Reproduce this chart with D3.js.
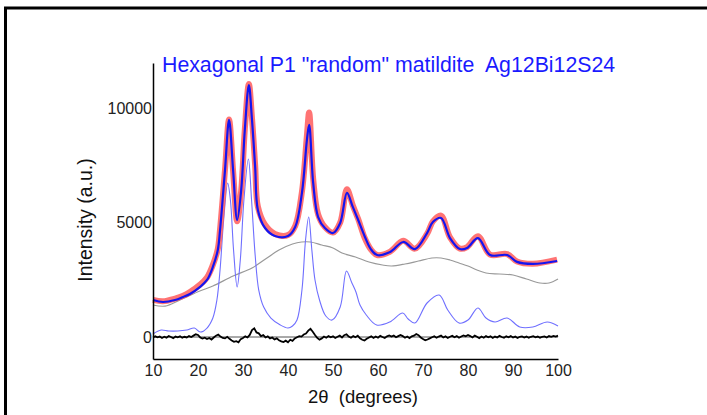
<!DOCTYPE html>
<html>
<head>
<meta charset="utf-8">
<script src="https://cdn.jsdelivr.net/npm/d3@7"></script>
<style>
  body { margin: 0; background: #fff; }
  svg { display: block; font-family: "Liberation Sans", Arial, sans-serif; }
</style>
</head>
<body>
<svg id="chart" width="707" height="415"></svg>
<script>
// 2theta positions of the read key points (calc / obs)
const keyTheta = [10.0, 12.2, 14.9, 16.7, 18.2, 20.4, 22.0, 23.3, 24.4, 24.9, 26.0, 26.9, 27.8, 28.7, 29.6, 30.4, 31.3, 32.0, 32.7, 33.3,
  34.9, 37.1, 40.0, 41.6, 43.1, 44.2, 44.7, 45.6, 46.7, 48.2, 50.0, 51.6, 53.1, 54.4, 55.6, 57.1, 58.4, 59.8, 62.7, 65.6,
  68.2, 70.9, 72.2, 74.0, 76.0, 78.2, 79.8, 82.2, 84.9, 88.7, 90.9, 94.4, 99.8]
const calcValues = [1616, 1530, 1615, 1750, 1880, 2180, 2490, 3060, 3800, 4670, 7290, 9480, 7290, 5110, 6420, 9040, 11000, 9480, 7420, 5550,
  4760, 4410, 4410, 4800, 6290, 8600, 9260, 6720, 5240, 4760, 4540, 4980, 6290, 5680, 5110, 4370, 3840, 3580, 3710, 4150,
  3840, 4540, 5020, 5200, 4320, 3840, 3890, 4320, 3580, 3580, 3280, 3190, 3320]
const obsValues = [1620, 1560, 1680, 1800, 1960, 2280, 2600, 3150, 3850, 4700, 7300, 9500, 7250, 5050, 6400, 9050, 11050, 9550, 7500, 5700,
  4900, 4500, 4450, 4850, 6350, 8800, 9800, 6900, 5350, 4800, 4560, 5000, 6450, 5750, 5150, 4300, 3830, 3580, 3730, 4200,
  3860, 4500, 5050, 5300, 4350, 3860, 3930, 4400, 3600, 3620, 3300, 3200, 3380]

// background
const bkgTheta = [10, 12.7, 16, 20.4, 23.3, 27.8, 32, 35, 38, 41, 43, 45, 47.5, 50, 52, 55, 58, 61, 63, 66,
  69, 72, 74, 76, 78, 80, 82, 84, 87, 90, 93, 96, 98, 100]
const bkgValues = [1397, 1350, 1616, 2009, 2227, 2664, 3013, 3406, 3799, 4061, 4149, 4149, 4018, 3887, 3668, 3494, 3275, 3144, 3101, 3188,
  3319, 3450, 3450, 3363, 3232, 3101, 2926, 2795, 2751, 2708, 2533, 2358, 2358, 2533]

// sum of Bragg peaks (thin blue)
const peakTheta = [10, 11.8, 13.5, 15.5, 17.5, 19.2, 20.5, 22, 23.3, 24.2, 24.9, 25.7, 26.6, 27.2, 27.9, 28.7, 29.4, 30.2, 31.2, 31.9,
  32.7, 33.5, 34.6, 36.2, 38.3, 40, 41, 42, 43.1, 43.9, 44.6, 45.3, 46, 47, 48.4, 49.8, 51.6, 53, 54.2, 55.1,
  56, 57.4, 59.7, 62.6, 65.5, 66.7, 68.2, 70.9, 73.6, 75.5, 78, 80, 82.2, 84, 86, 88.7, 91.5, 94.4, 97.6, 100]
const peakValues = [131, 306, 262, 262, 306, 393, 218, 393, 830, 1616, 2926, 5109, 6725, 5983, 3799, 2184, 3363, 5983, 7773, 5983,
  3581, 2052, 1310, 830, 524, 393, 480, 742, 2052, 4236, 5240, 3799, 2489, 1616, 917, 742, 1310, 2882, 2358, 1965,
  1397, 961, 524, 655, 1048, 786, 611, 1485, 1834, 1179, 611, 742, 1266, 830, 655, 830, 437, 437, 655, 480]

// difference obs - calc, every 0.5 deg from 10 to 100
const diffTheta = d3.range(10, 100.01, 0.5)
const diffValues = [-20, 30, -10, 20, -40, 10, -30, 40, 0, -50, 20, -10, 30, -30, 10, -20, 40, 0, 60, 120,
  90, -20, -70, -30, -90, -40, -110, -20, 60, 110, 20, -40, -60, 10, -80, -150, -210, -180, -230, -90,
  -40, 30, -20, 90, 300, 380, 200, 160, 40, 80, -20, 30, -60, -20, -110, -60, -140, -190, -220, -160,
  -230, -120, -170, -60, -10, 40, 20, 110, 150, 280, 360, 230, 90, -40, -120, -60, 20, -30, 40, -10,
  30, -40, 10, 60, -20, 80, 120, 20, -30, 40, -10, 60, -60, -120, -150, -80, -20, 30, -40, 20,
  -30, 50, 0, -40, 30, 70, 20, 60, -10, 40, 90, 40, -30, 20, -50, 30, 60, 130, 80, -20,
  -90, -140, -110, -60, -10, 30, -30, 20, 60, -20, 30, -40, 10, 50, -10, 40, -30, 20, 70, 30,
  90, 40, -20, 60, 10, -50, 20, -30, 40, -10, 30, -40, 20, -20, 50, 0, -30, 30, -10, 40,
  -20, 20, -40, 10, 30, -20, 20, -30, 10, 40, -10, 20, -30, 10, 30, -20, 40, 10, 50, 20, 60]

const xTicks = [10, 20, 30, 40, 50, 60, 70, 80, 90, 100]
const yTicks = [0, 5000, 10000]

const titleText = 'Hexagonal P1 "random" matildite  Ag12Bi12S24'

let svg = d3.select("#chart")
let margin = {left: 153, top: 63}
let w = 405
let h = 296

// frame around the figure (top and left edges visible)
svg.append("path")
  .attr("d", "M5.5,415 V8 H707")
  .attr("fill", "none")
  .attr("stroke", "black")
  .attr("stroke-width", 3)

let x = d3.scaleLinear().domain([10, 100]).range([0, w])
let y = d3.scaleLinear().domain([-960, 11965]).range([h, 0])

let g = svg.append("g").attr("transform", "translate(" + margin.left + "," + margin.top + ")")

let zip = (xs, ys) => xs.map((v, i) => [v, ys[i]])

let smooth = d3.line().x(d => x(d[0])).y(d => y(d[1])).curve(d3.curveCatmullRom)
let straight = d3.line().x(d => x(d[0])).y(d => y(d[1]))

// zero line
g.append("line")
  .attr("x1", x(10)).attr("x2", x(100))
  .attr("y1", y(0)).attr("y2", y(0))
  .attr("stroke", "#555").attr("stroke-width", 1)

// background
g.append("path").datum(zip(bkgTheta, bkgValues))
  .attr("d", smooth).attr("fill", "none")
  .attr("stroke", "#999").attr("stroke-width", 1.2)

// peaks
g.append("path").datum(zip(peakTheta, peakValues))
  .attr("d", smooth).attr("fill", "none")
  .attr("stroke", "#6f6fff").attr("stroke-width", 1.1)

// observed (red dots)
g.append("path").datum(zip(keyTheta, obsValues))
  .attr("d", smooth).attr("fill", "none")
  .attr("stroke", "#ff5c5c").attr("stroke-width", 6).attr("opacity", 0.85)
  .attr("stroke-linejoin", "round")

// calculated
g.append("path").datum(zip(keyTheta, calcValues))
  .attr("d", smooth).attr("fill", "none")
  .attr("stroke", "#1414f0").attr("stroke-width", 2.2)

// difference
g.append("path").datum(zip(diffTheta, diffValues))
  .attr("d", straight).attr("fill", "none")
  .attr("stroke", "black").attr("stroke-width", 1.8)

// axes
let xAxis = g.append("g")
  .attr("transform", "translate(0," + h + ")")
  .call(d3.axisBottom(x).tickValues(xTicks).tickSize(0).tickPadding(6))
let yAxis = g.append("g")
  .call(d3.axisLeft(y).tickValues(yTicks).tickSize(0).tickPadding(1).tickFormat(d3.format("d")))

for (let a of [xAxis, yAxis]) {
  a.select(".domain").attr("stroke", "black").attr("stroke-width", 1.5)
  a.selectAll("text").attr("font-size", "16px").attr("fill", "#222").attr("font-family", "Liberation Sans, Arial, sans-serif")
}

// title
svg.append("text")
  .attr("x", 162).attr("y", 72)
  .attr("fill", "#1a1aff")
  .attr("font-size", "21.3px")
  .style("white-space", "pre")
  .text(titleText)

// axis titles
svg.append("text")
  .attr("transform", "translate(92,220) rotate(-90)")
  .attr("text-anchor", "middle")
  .attr("font-size", "19.5px")
  .attr("fill", "#111")
  .text("Intensity (a.u.)")

svg.append("text")
  .attr("x", 363).attr("y", 403)
  .attr("text-anchor", "middle")
  .attr("font-size", "18.5px")
  .attr("fill", "#111")
  .style("white-space", "pre")
  .text("2θ  (degrees)")
</script>
</body>
</html>
